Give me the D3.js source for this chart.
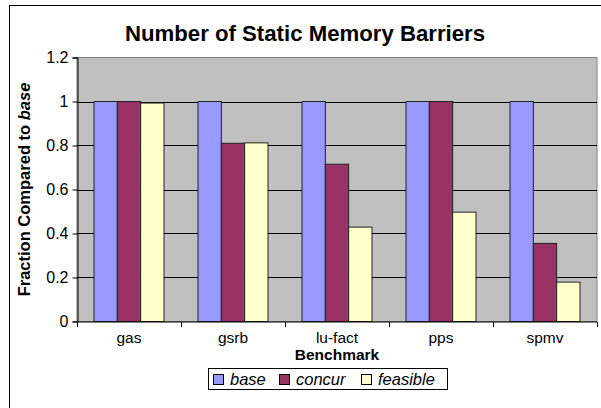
<!DOCTYPE html>
<html>
<head>
<meta charset="utf-8">
<script src="https://cdn.jsdelivr.net/npm/d3@7"></script>
<style>
  body { margin: 0; background: #fff; }
  svg { display: block; font-family: Arial, "Liberation Sans", sans-serif; }
</style>
</head>
<body>
<svg id="chart" width="601" height="408"></svg>
<script>
const categories = ["gas", "gsrb", "lu-fact", "pps", "spmv"];
const seriesNames = ["base", "concur", "feasible"];
const baseValues = [1.0, 1.0, 1.0, 1.0, 1.0];
const concurValues = [1.0, 0.81, 0.715, 1.0, 0.355];
const feasibleValues = [0.993, 0.812, 0.429, 0.497, 0.179];
const yTicks = [0, 0.2, 0.4, 0.6, 0.8, 1, 1.2];
const colors = ["#9999FF", "#993366", "#FFFFCC"];

const seriesValues = [baseValues, concurValues, feasibleValues];
const svg = d3.select("#chart");

svg.append("rect").attr("x", 0).attr("y", 0).attr("width", 601).attr("height", 408).attr("fill", "#fff");
svg.append("rect").attr("x", 9.5).attr("y", 5.5).attr("width", 640).attr("height", 440)
  .attr("fill", "none").attr("stroke", "#000").attr("stroke-width", 1);

const pLeft = 77, pRight = 597, pTop = 57.5, pBottom = 321.5;

const x0 = d3.scaleBand().domain(categories).range([pLeft, pRight]).paddingInner(0.327).paddingOuter(0.1635);
const x1 = d3.scaleBand().domain(seriesNames).range([0, x0.bandwidth()]);
const y = d3.scaleLinear().domain([0, 1.2]).range([pBottom, pTop]);

svg.append("rect").attr("x", pLeft).attr("y", pTop).attr("width", pRight - pLeft).attr("height", pBottom - pTop)
  .attr("fill", "#C0C0C0").attr("stroke", "#808080").attr("stroke-width", 1);

svg.append("g").selectAll("line").data(yTicks.filter(t => t > 0 && t < 1.2)).join("line")
  .attr("x1", pLeft).attr("x2", pRight)
  .attr("y1", d => Math.round(y(d)) + 0.5).attr("y2", d => Math.round(y(d)) + 0.5)
  .attr("stroke", "#000").attr("stroke-width", 1);

const groups = svg.append("g").selectAll("g").data(categories).join("g")
  .attr("transform", d => `translate(${x0(d)},0)`);
groups.selectAll("rect").data((c, i) => seriesNames.map((s, j) => ({ s, v: seriesValues[j][i], j })))
  .join("rect")
  .attr("x", d => x1(d.s))
  .attr("y", d => y(d.v))
  .attr("width", x1.bandwidth())
  .attr("height", d => pBottom - y(d.v))
  .attr("fill", d => colors[d.j])
  .attr("stroke", "#222").attr("stroke-width", 1);

const yAxis = d3.axisLeft(y).tickValues(yTicks).tickSize(5).tickPadding(4)
  .tickFormat(d => d === 0 || d === 1 ? String(d) : d3.format(".1f")(d));
const gy = svg.append("g").attr("transform", `translate(${pLeft + 0.5},0)`).call(yAxis);
gy.select(".domain").attr("stroke", "#000");
gy.selectAll("text").attr("font-size", 16).attr("font-family", "Arial, 'Liberation Sans', sans-serif").attr("fill", "#000");

const gx = svg.append("g").attr("transform", `translate(0,${pBottom + 0.5})`);
gx.append("line").attr("x1", pLeft).attr("x2", pRight).attr("stroke", "#000");
const bounds = categories.map((c, i) => pLeft + i * x0.step()).concat([pRight]);
gx.selectAll("line.tick").data(bounds).join("line").attr("class", "tick")
  .attr("x1", d => Math.round(d) + 0.5).attr("x2", d => Math.round(d) + 0.5)
  .attr("y1", 0).attr("y2", 5).attr("stroke", "#000");
gx.selectAll("text").data(categories).join("text")
  .attr("x", d => x0(d) + x0.bandwidth() / 2)
  .attr("y", 20.5)
  .attr("text-anchor", "middle").attr("font-size", 15.5).attr("fill", "#000")
  .text(d => d);

svg.append("text").attr("x", 305).attr("y", 41).attr("text-anchor", "middle")
  .attr("font-size", 22.2).attr("font-weight", "bold").text("Number of Static Memory Barriers");

svg.append("text").attr("x", (pLeft + pRight) / 2).attr("y", 360).attr("text-anchor", "middle")
  .attr("font-size", 15.5).attr("font-weight", "bold").text("Benchmark");

const yt = svg.append("text").attr("transform", `translate(30,${(pTop + pBottom) / 2}) rotate(-90)`)
  .attr("text-anchor", "middle").attr("font-size", 16.5).attr("font-weight", "bold");
yt.append("tspan").text("Fraction Compared to ");
yt.append("tspan").attr("font-style", "italic").text("base");

const lg = svg.append("g");
lg.append("rect").attr("x", 208.5).attr("y", 368.5).attr("width", 239).attr("height", 21)
  .attr("fill", "#fff").attr("stroke", "#000");
const legendX = [213, 279, 361];
seriesNames.forEach((s, i) => {
  lg.append("rect").attr("x", legendX[i] + 0.5).attr("y", 374.5).attr("width", 10).attr("height", 10)
    .attr("fill", colors[i]).attr("stroke", "#000");
  lg.append("text").attr("x", legendX[i] + 17).attr("y", 385).attr("font-size", 16.5)
    .attr("font-style", "italic").text(s);
});
</script>
</body>
</html>
